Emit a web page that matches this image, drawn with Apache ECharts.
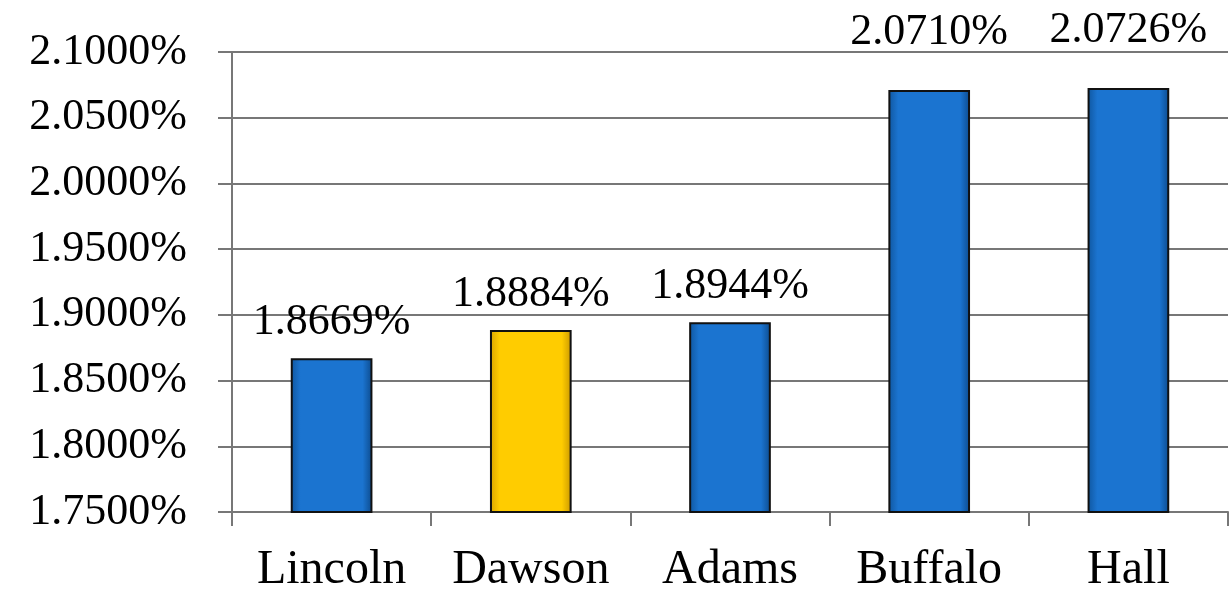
<!DOCTYPE html>
<html>
<head>
<meta charset="utf-8">
<script src="https://cdn.jsdelivr.net/npm/echarts@6/dist/echarts.min.js"></script>
<style>
  html, body { margin: 0; padding: 0; background: #fff; }
  #chart { width: 1230px; height: 595px; }
</style>
</head>
<body>
<div id="chart"></div>
<script>
// counties and their rates (in percent)
var counties = ['Lincoln', 'Dawson', 'Adams', 'Buffalo', 'Hall'];
var rates = [1.8669, 1.8884, 1.8944, 2.0710, 2.0726];
var highlight = 'Dawson'; // the yellow bar

var font = '"Liberation Serif", "DejaVu Serif", serif';
var gray = '#777';

function barColor(yellow) {
  // fake the bevel with a horizontal gradient, darker at the edges
  var stops = yellow
    ? ['#d9a400', '#ffcc00', '#ffcc00', '#c99700']
    : ['#0f569f', '#1b74d0', '#1b74d0', '#0c4a8c'];
  return {
    type: 'linear', x: 0, y: 0, x2: 1, y2: 0,
    colorStops: [
      { offset: 0, color: stops[0] },
      { offset: 0.12, color: stops[1] },
      { offset: 0.88, color: stops[2] },
      { offset: 1, color: stops[3] }
    ]
  };
}

var data = [];
for (var i = 0; i < rates.length; i++) {
  var item = {
    value: rates[i],
    itemStyle: { color: barColor(counties[i] == highlight) }
  };
  // the two tall bars have their labels pushed up above the plot
  if (rates[i] > 2.05) item.label = { distance: 36 };
  data.push(item);
}

var chart = echarts.init(document.getElementById('chart'));
chart.setOption({
  animation: false,
  backgroundColor: '#fff',
  grid: { left: 232, right: 2, top: 52, bottom: 83 },
  xAxis: {
    type: 'category',
    data: counties,
    axisLine: { lineStyle: { color: gray, width: 2 } },
    axisTick: { show: true, interval: 0, length: 14, lineStyle: { color: gray, width: 2 } },
    axisLabel: { interval: 0, color: '#000', fontFamily: font, fontSize: 48, margin: 34 }
  },
  yAxis: {
    type: 'value',
    min: 1.75,
    max: 2.10,
    interval: 0.05,
    axisLine: { show: true, lineStyle: { color: gray, width: 2 } },
    axisTick: { show: true, length: 14, lineStyle: { color: gray, width: 2 } },
    splitLine: { lineStyle: { color: gray, width: 2 } },
    axisLabel: {
      color: '#000', fontFamily: font, fontSize: 44, margin: 45,
      formatter: function (v) { return v.toFixed(4) + '%'; }
    }
  },
  series: [{
    type: 'bar',
    data: data,
    barWidth: '41%',
    itemStyle: { borderColor: '#111', borderWidth: 2 },
    label: {
      show: true,
      position: 'top',
      distance: 14,
      color: '#000',
      fontFamily: font,
      fontSize: 44,
      formatter: function (p) { return p.value.toFixed(4) + '%'; }
    }
  }]
});
</script>
</body>
</html>
